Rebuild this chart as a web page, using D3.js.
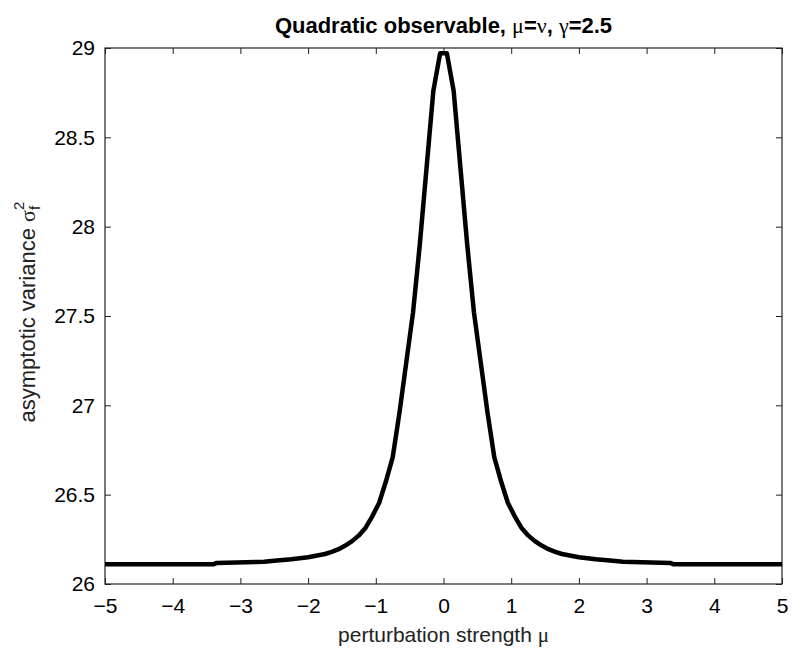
<!DOCTYPE html>
<html>
<head>
<meta charset="utf-8">
<script src="https://cdn.jsdelivr.net/npm/d3@7"></script>
<style>
  body { margin: 0; background: #fff; }
  text { font-family: "Liberation Sans", Arial, sans-serif; }
</style>
</head>
<body>
<div id="container"></div>
<script>
// data (symmetric peak around 0)
let muValues = [-5, -3.4, -3.35, -2.65, -2.5, -2.25, -2.0, -1.75, -1.65, -1.55, -1.45, -1.35, -1.25, -1.15, -1.05, -0.95, -0.85, -0.75, -0.65, -0.55, -0.45, -0.35, -0.25, -0.15, -0.05,
                0.05, 0.15, 0.25, 0.35, 0.45, 0.55, 0.65, 0.75, 0.85, 0.95, 1.05, 1.15, 1.25, 1.35, 1.45, 1.55, 1.65, 1.75, 2.0, 2.25, 2.5, 2.65, 3.35, 3.4, 5];
let varianceValues = [26.11, 26.11, 26.118, 26.125, 26.13, 26.138, 26.15, 26.168, 26.18, 26.195, 26.215, 26.24, 26.272, 26.315, 26.38, 26.455, 26.575, 26.71, 26.96, 27.24, 27.52, 27.9, 28.33, 28.76, 28.97,
                      28.97, 28.76, 28.33, 27.9, 27.52, 27.24, 26.96, 26.71, 26.575, 26.455, 26.38, 26.315, 26.272, 26.24, 26.215, 26.195, 26.18, 26.168, 26.15, 26.138, 26.13, 26.125, 26.118, 26.11, 26.11];
let xTicks = [-5, -4, -3, -2, -1, 0, 1, 2, 3, 4, 5];
let yTicks = [26, 26.5, 27, 27.5, 28, 28.5, 29];

let width = 806;
let height = 660;
let margin = { left: 105, right: 24, top: 48, bottom: 76 };

let svg = d3.select("#container")
    .append("svg")
    .attr("width", width)
    .attr("height", height);

let x = d3.scaleLinear().domain([-5, 5]).range([margin.left, width - margin.right]);
let y = d3.scaleLinear().domain([26, 29]).range([height - margin.bottom, margin.top]);

let plotW = width - margin.left - margin.right;
let plotH = height - margin.top - margin.bottom;

//axes (ticks inside, MATLAB style)
let fmt = d => String(d).replace("-", "\u2212");

svg.append("g")
    .attr("transform", "translate(0," + (height - margin.bottom) + ")")
    .call(d3.axisBottom(x).tickValues(xTicks).tickSize(-6).tickPadding(14).tickFormat(fmt))
    .call(g => g.select(".domain").remove());

svg.append("g")
    .attr("transform", "translate(0," + margin.top + ")")
    .call(d3.axisTop(x).tickValues(xTicks).tickSize(-6).tickFormat(""))
    .call(g => g.select(".domain").remove());

svg.append("g")
    .attr("transform", "translate(" + margin.left + ",0)")
    .call(d3.axisLeft(y).tickValues(yTicks).tickSize(-6).tickPadding(10).tickFormat(d => d))
    .call(g => g.select(".domain").remove());

svg.append("g")
    .attr("transform", "translate(" + (width - margin.right) + ",0)")
    .call(d3.axisRight(y).tickValues(yTicks).tickSize(-6).tickFormat(""))
    .call(g => g.select(".domain").remove());

svg.selectAll(".tick line").attr("stroke", "#222");
svg.selectAll(".tick text")
    .attr("font-size", 21)
    .attr("fill", "#000")
    .style("font-family", "'Liberation Sans', Arial, sans-serif");

//box
svg.append("rect")
    .attr("x", margin.left)
    .attr("y", margin.top)
    .attr("width", plotW)
    .attr("height", plotH)
    .attr("fill", "none")
    .attr("stroke", "#222")
    .attr("stroke-width", 1.2);

//curve
let points = muValues.map((m, i) => [m, varianceValues[i]]);
let line = d3.line()
    .x(d => x(d[0]))
    .y(d => y(d[1]));

svg.append("path")
    .datum(points)
    .attr("d", line)
    .attr("fill", "none")
    .attr("stroke", "#000")
    .attr("stroke-width", 4.5)
    .attr("stroke-linejoin", "round");

//title
let title = svg.append("text")
    .attr("x", margin.left + plotW / 2)
    .attr("y", 33)
    .attr("text-anchor", "middle")
    .attr("font-size", 22)
    .attr("font-weight", "bold");
title.append("tspan").text("Quadratic observable, ");
title.append("tspan").attr("font-weight", "normal").style("font-family", "'Liberation Serif', serif").text("\u03bc");
title.append("tspan").text("=");
title.append("tspan").attr("font-weight", "normal").style("font-family", "'Liberation Serif', serif").text("\u03bd");
title.append("tspan").text(", ");
title.append("tspan").attr("font-weight", "normal").style("font-family", "'Liberation Serif', serif").text("\u03b3");
title.append("tspan").text("=2.5");

//x label
let xl = svg.append("text")
    .attr("x", margin.left + plotW / 2)
    .attr("y", 642)
    .attr("text-anchor", "middle")
    .attr("font-size", 21)
    .attr("fill", "#222");
xl.append("tspan").text("perturbation strength ");
xl.append("tspan").style("font-family", "'Liberation Serif', serif").text("\u03bc");

//y label
let yl = svg.append("text")
    .attr("transform", "translate(35," + (margin.top + plotH / 2 - 4) + ") rotate(-90)")
    .attr("text-anchor", "middle")
    .attr("font-size", 22)
    .attr("fill", "#222");
yl.append("tspan").text("asymptotic variance ");
yl.append("tspan").style("font-family", "'Liberation Serif', serif").text("\u03c3");
yl.append("tspan").attr("font-size", 15).attr("dy", 5).text("f");
yl.append("tspan").attr("font-size", 15).attr("dx", -4).attr("dy", -16).text("2");
</script>
</body>
</html>
